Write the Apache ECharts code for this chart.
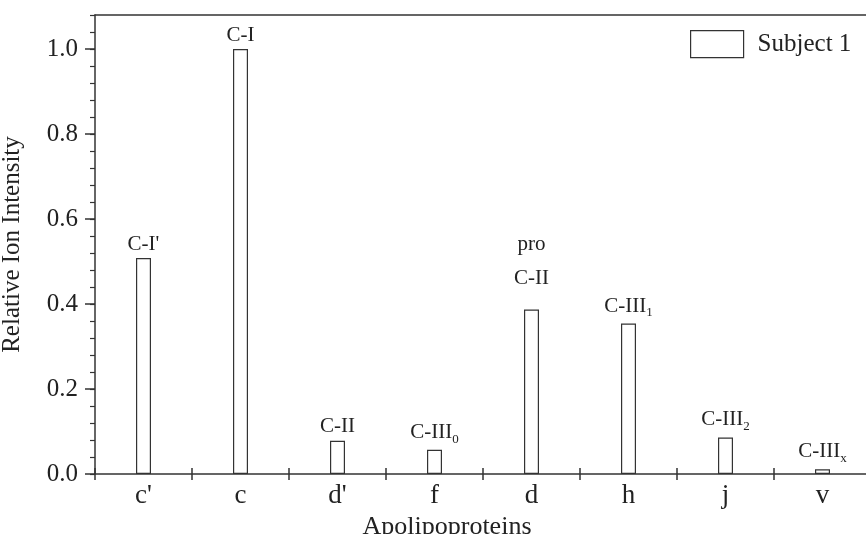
<!DOCTYPE html>
<html>
<head>
<meta charset="utf-8">
<script src="https://cdn.jsdelivr.net/npm/echarts@6/dist/echarts.min.js"></script>
<style>html,body{margin:0;padding:0;background:#fff;}#chart{width:866px;height:534px;}</style>
</head>
<body>
<div id="chart"></div>
<script>
const categories = ["c'", "c", "d'", "f", "d", "h", "j", "v"];
const intensity = [0.508, 1.0, 0.078, 0.057, 0.387, 0.354, 0.086, 0.011];
const labelMain = ["C-I'", "C-I", "C-II", "C-III", "pro\nC-II", "C-III", "C-III", "C-III"];
const labelSub = ["", "", "", "0", "", "1", "2", "x"];
const seriesName = "Subject 1";
const yTicks = [0, 0.2, 0.4, 0.6, 0.8, 1.0];

const FONT = "'Liberation Serif', 'DejaVu Serif', serif";
const INK = "#222";
const LINE = "#333";

const chart = echarts.init(document.getElementById('chart'));

const data = intensity.map((v, i) => {
  const multi = labelMain[i].indexOf('\n') >= 0;
  const hasSub = !!labelSub[i];
  return {
    value: v,
    label: {
      distance: multi ? 14 : (hasSub ? 4 : 2),
      formatter: hasSub
        ? '{t|' + labelMain[i] + '}{s|' + labelSub[i] + '}'
        : labelMain[i].split('\n').map(t => (multi ? '{w|' : '{m|') + t + '}').join('\n')
    }
  };
});

const option = {
  animation: false,
  backgroundColor: '#fff',
  grid: { left: 95, top: 15, bottom: 60, width: 776, containLabel: false, outerBoundsMode: 'none' },
  legend: {
    data: [seriesName],
    left: 690, top: 30, padding: 0,
    icon: 'rect', itemWidth: 53, itemHeight: 27,
    itemStyle: { color: '#fff', borderColor: LINE, borderWidth: 1.2 },
    textStyle: { fontFamily: FONT, fontSize: 25, color: INK, padding: [0, 0, 0, 9] }
  },
  xAxis: [
    {
      type: 'category', data: categories, position: 'bottom',
      name: 'Apolipoproteins', nameLocation: 'middle', nameGap: 37,
      nameTextStyle: { fontFamily: FONT, fontSize: 26, color: INK, padding: [0, 72, 0, 0] },
      axisLine: { lineStyle: { color: LINE, width: 1.5 } },
      axisTick: { show: true, length: 6, lineStyle: { color: LINE, width: 1.5 } },
      axisLabel: { fontFamily: FONT, fontSize: 27, color: INK, margin: 8 }
    },
    {
      type: 'category', data: categories, position: 'bottom',
      axisLine: { show: false },
      axisTick: { show: true, inside: true, length: 6, lineStyle: { color: LINE, width: 1.5 } },
      axisLabel: { show: false }
    },
    {
      type: 'category', data: categories, position: 'top',
      axisLine: { show: true, lineStyle: { color: LINE, width: 1.5 } },
      axisTick: { show: false },
      axisLabel: { show: false }
    }
  ],
  yAxis: [
    {
      type: 'value', min: 0, max: 1.08, interval: 0.2, position: 'left',
      name: 'Relative Ion Intensity', nameLocation: 'middle', nameGap: 70,
      nameTextStyle: { fontFamily: FONT, fontSize: 25, color: INK },
      axisLine: { show: true, lineStyle: { color: LINE, width: 1.5 } },
      axisTick: { show: true, length: 10, lineStyle: { color: LINE, width: 1.5 },
        customValues: yTicks },
      axisLabel: { fontFamily: FONT, fontSize: 25, color: INK, margin: 17,
        customValues: yTicks,
        formatter: v => v.toFixed(1) },
      splitLine: { show: false }
    },
    {
      type: 'value', min: 0, max: 1.08, interval: 0.04, position: 'left',
      axisLine: { show: false },
      axisTick: { show: true, length: 5, lineStyle: { color: LINE, width: 1.2 } },
      axisLabel: { show: false },
      splitLine: { show: false }
    }
  ],
  series: [
    {
      name: seriesName, type: 'bar', xAxisIndex: 0, yAxisIndex: 0,
      barWidth: 15,
      data: data,
      itemStyle: { color: '#fff', borderColor: LINE, borderWidth: 1.2 },
      label: {
        show: true, position: 'top',
        rich: {
          m: { fontFamily: FONT, fontSize: 21, color: INK, lineHeight: 24 },
          t: { fontFamily: FONT, fontSize: 21, color: INK, lineHeight: 24, verticalAlign: 'top' },
          w: { fontFamily: FONT, fontSize: 21, color: INK, lineHeight: 34 },
          s: { fontFamily: FONT, fontSize: 13, color: INK, lineHeight: 12, verticalAlign: 'bottom', padding: [17, 0, 0, 0] }
        }
      }
    }
  ]
};
chart.setOption(option);
</script>
</body>
</html>
